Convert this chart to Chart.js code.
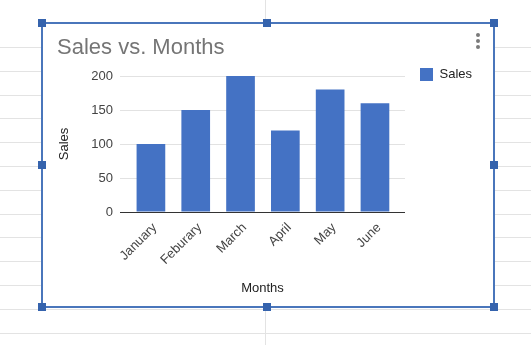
<!DOCTYPE html>
<html>
<head>
<meta charset="utf-8">
<script src="https://cdn.jsdelivr.net/npm/chart.js@4/dist/chart.umd.min.js"></script>
<style>
  html, body { margin: 0; padding: 0; background: #fff; }
  body { width: 531px; height: 345px; position: relative; overflow: hidden; font-family: "Liberation Sans", Arial, sans-serif; }
  .row { position: absolute; left: 0; width: 531px; height: 1px; background: #e3e3e3; }
  .col { position: absolute; width: 1px; background: #e3e3e3; }
  #frame { position: absolute; left: 41px; top: 22px; width: 454px; height: 286px; box-sizing: border-box; border: 2px solid #4a76bb; background: #fff; }
  #salesChart { position: absolute; left: 0; top: 0; }
  .handle { position: absolute; width: 8px; height: 8px; background: #3563ad; }
  .dot { position: absolute; width: 4px; height: 4px; border-radius: 50%; background: #7a7a7a; }
</style>
</head>
<body>
<div id="sheet"></div>
<div id="frame"></div>
<canvas id="salesChart" width="531" height="345"></canvas>
<div id="extras"></div>

<script>
// ================= DATA =================

const months = ['January', 'Feburary', 'March', 'April', 'May', 'June'];
const sales = [100, 150, 200, 120, 180, 160];
const yTicks = [0, 50, 100, 150, 200];


// ================= SPREADSHEET BACKGROUND =================

const sheet = document.getElementById("sheet");
for (let y = 47; y < 345; y += 23.8) {
    const r = document.createElement("div");
    r.className = "row";
    r.style.top = Math.round(y) + "px";
    sheet.appendChild(r);
}
[[0, 23], [307, 345]].forEach(function (seg) {
    const c = document.createElement("div");
    c.className = "col";
    c.style.left = "265px";
    c.style.top = seg[0] + "px";
    c.style.height = (seg[1] - seg[0]) + "px";
    sheet.appendChild(c);
});

// selection handles + menu dots
const extras = document.getElementById("extras");
[[42, 23], [267, 23], [494, 23], [42, 165], [494, 165], [42, 307], [267, 307], [494, 307]].forEach(function (p) {
    const h = document.createElement("div");
    h.className = "handle";
    h.style.left = (p[0] - 4) + "px";
    h.style.top = (p[1] - 4) + "px";
    extras.appendChild(h);
});
[35, 41, 47].forEach(function (y) {
    const d = document.createElement("div");
    d.className = "dot";
    d.style.left = "476px";
    d.style.top = (y - 2) + "px";
    extras.appendChild(d);
});


// ================= CHART =================

Chart.defaults.font.family = '"Liberation Sans", Arial, sans-serif';
Chart.defaults.font.size = 13;
Chart.defaults.color = '#444';

const ctx = document.getElementById("salesChart");

new Chart(ctx, {
    type: 'bar',
    data: {
        datasets: [{
            label: 'Sales',
            data: sales.map(function (v, i) { return { x: i, y: v }; }),
            backgroundColor: '#4472c4',
            barPercentage: 0.64,
            categoryPercentage: 1
        }]
    },
    options: {
        responsive: false,
        animation: false,
        layout: {
            padding: { left: 57, top: 32, right: 49, bottom: 45 }
        },
        plugins: {
            title: {
                display: true,
                text: 'Sales vs. Months',
                align: 'start',
                color: '#757575',
                font: { size: 22, weight: 'normal', lineHeight: 0.5 },
                padding: { top: 10, bottom: 23 }
            },
            legend: {
                position: 'right',
                align: 'start',
                // empty title only pushes the item down to the first gridline row
                title: { display: true, text: '', font: { lineHeight: 0 }, padding: { top: 21, bottom: 0 } },
                labels: {
                    boxWidth: 13,
                    boxHeight: 13,
                    padding: 15,
                    color: '#222'
                }
            },
            tooltip: { enabled: false }
        },
        scales: {
            x: {
                type: 'linear',
                offset: false,
                min: -0.69,
                max: 5.67,
                grid: { display: false, drawTicks: false },
                border: { display: true, color: '#333', width: 1 },
                afterBuildTicks: function (s) {
                    s.ticks = months.map(function (m, i) { return { value: i }; });
                },
                afterFit: function (s) { s.height = 88; },
                ticks: {
                    autoSkip: false,
                    minRotation: 45,
                    maxRotation: 45,
                    padding: 8,
                    labelOffset: 4,
                    color: '#444',
                    callback: function (v) { return months[v]; }
                },
                title: {
                    display: true,
                    text: 'Months',
                    color: '#222',
                    padding: { top: 0, bottom: 4 }
                }
            },
            y: {
                min: 0,
                max: 200,
                grid: { color: '#e2e2e2', drawTicks: false },
                border: { display: false },
                afterBuildTicks: function (s) {
                    s.ticks = yTicks.map(function (v) { return { value: v }; });
                },
                afterFit: function (s) { s.width = 63; },
                ticks: { padding: 7, color: '#444' },
                title: {
                    display: true,
                    text: 'Sales',
                    color: '#222',
                    padding: { top: 0, bottom: 0 }
                }
            }
        }
    }
});
</script>
</body>
</html>
